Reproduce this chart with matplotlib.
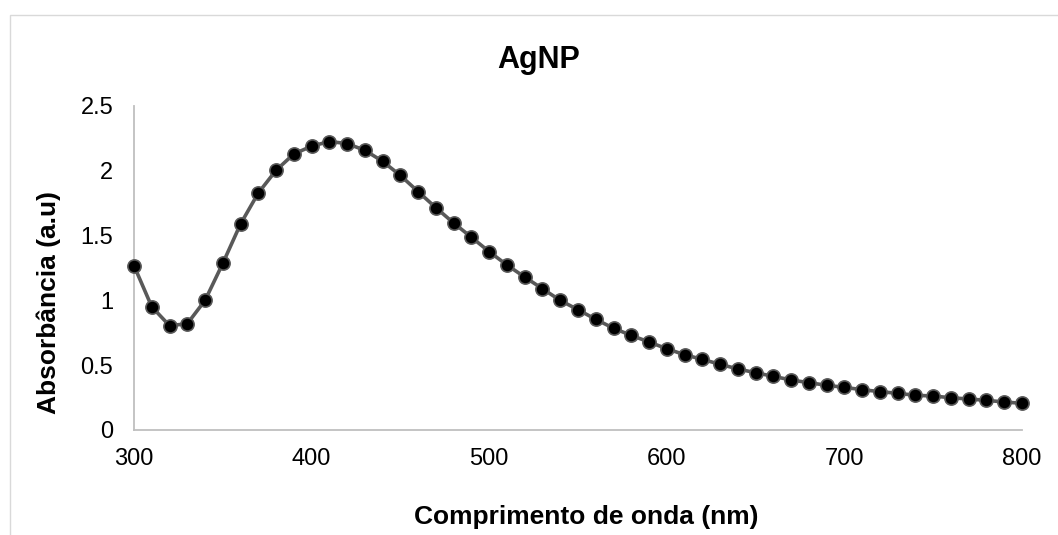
import matplotlib

matplotlib.use("Agg")
import matplotlib.pyplot as plt
from matplotlib.patches import Rectangle

plt.rcParams.update({"font.family": ["Liberation Sans", "DejaVu Sans"]})

# wavelength (nm) and absorbance
wavelength = list(range(300, 801, 10))
absorbance = [
    1.268, 0.951, 0.805, 0.820, 1.000, 1.286, 1.590, 1.829, 2.004, 2.130,
    2.190, 2.226, 2.210, 2.158, 2.073, 1.964, 1.839, 1.715, 1.597, 1.487,
    1.376, 1.273, 1.180, 1.090, 1.000, 0.928, 0.854, 0.785, 0.730, 0.679,
    0.627, 0.581, 0.545, 0.507, 0.471, 0.442, 0.414, 0.386, 0.365, 0.345,
    0.329, 0.311, 0.296, 0.283, 0.268, 0.262, 0.249, 0.239, 0.229, 0.216,
    0.206,
]
x_ticks = [300, 400, 500, 600, 700, 800]
y_ticks = [0, 0.5, 1, 1.5, 2, 2.5]
y_tick_labels = ["0", "0.5", "1", "1.5", "2", "2.5"]

LINE = "#595959"
SPINE = "#BFBFBF"

fig = plt.figure(figsize=(10.58, 5.35), dpi=100)
# chart frame (runs off the right/bottom edge like the screenshot)
fig.patches.append(
    Rectangle((10 / 1058, -0.05), 1.2, 1 - 15 / 535 + 0.05, transform=fig.transFigure,
              fill=False, edgecolor="#D9D9D9", linewidth=1.0)
)

ax = fig.add_axes([134 / 1058, 105 / 535, 888 / 1058, 324 / 535])
ax.plot(wavelength, absorbance, color=LINE, linewidth=2.6, marker="o",
        markersize=9.5, markerfacecolor="black", markeredgecolor=LINE,
        markeredgewidth=1.2, zorder=3, clip_on=False)

ax.set_xlim(300, 800)
ax.set_ylim(0, 2.5)
ax.set_xticks(x_ticks)
ax.set_yticks(y_ticks)
ax.set_yticklabels(y_tick_labels)
ax.tick_params(length=0, labelsize=17, colors="black")
ax.tick_params(axis="x", pad=13)
ax.tick_params(axis="y", pad=15)
for s in ["top", "right"]:
    ax.spines[s].set_visible(False)
for s in ["left", "bottom"]:
    ax.spines[s].set_color(SPINE)
    ax.spines[s].set_linewidth(1.3)

fig.text(539 / 1058, 1 - 60 / 535, "AgNP", ha="center", va="center",
         fontsize=22, fontweight="bold")
fig.text(586 / 1058, 1 - 517 / 535, "Comprimento de onda (nm)", ha="center",
         va="center", fontsize=19, fontweight="bold")
fig.text(49 / 1058, 1 - 302 / 535, "Absorbância (a.u)", ha="center",
         va="center", rotation=90, fontsize=19, fontweight="bold")

fig.savefig("out.png", dpi=100)
